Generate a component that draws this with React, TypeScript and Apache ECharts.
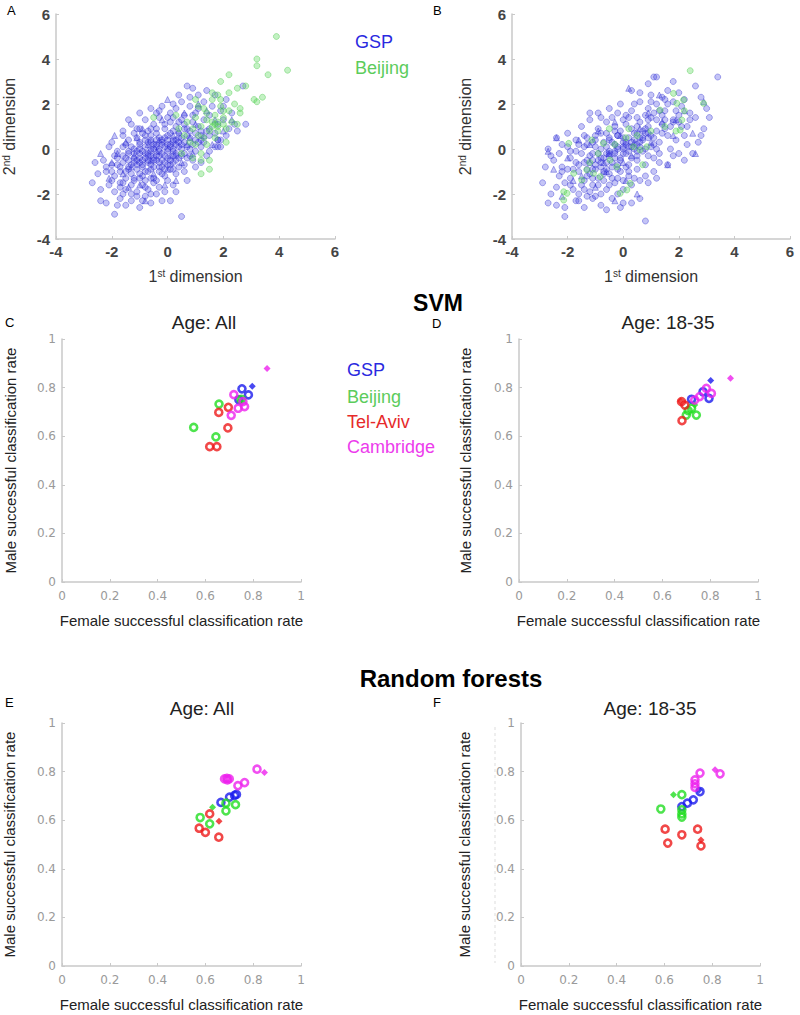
import React, { useEffect, useRef } from 'react';
import * as echarts from 'echarts';

const FONT = 'Liberation Sans, Arial, Helvetica, sans-serif';

// Axis ranges / ticks
const dimTicks = [-4, -2, 0, 2, 4, 6];
const rateTicks = [0, 0.2, 0.4, 0.6, 0.8, 1];

// ---------- Panel A (GSP vs Beijing) ----------
const gspACircles: number[][] = [
  [0.7, 2.8], [0.9, 2.7], [1.4, 2.6], [2.7, 2.8], [0.4, 2.4], [1.1, 2.4],
  [-0.6, 1.8], [-0.2, 1.9], [0.2, 2.0], [0.5, 2.1], [0.8, 1.9], [1.1, 1.8], [1.3, 2.1], [1.6, 1.9], [2.1, 2.2],
  [-0.4, 1.6], [0.1, 1.6], [0.6, 1.5], [1.0, 1.6], [1.5, 1.5], [-1.0, 1.6], [0.3, 1.8], [1.9, 1.7], [2.3, 1.6],
  [-1.6, 0.8], [-1.3, 1.1], [-1.0, 0.9], [-0.8, 1.3], [-0.5, 1.1], [-0.3, 1.4], [-0.1, 0.9], [0.1, 1.2], [0.3, 1.0],
  [0.5, 1.3], [0.7, 0.9], [0.9, 1.2], [1.1, 1.0], [1.3, 1.3], [1.5, 0.9], [1.8, 1.1], [2.0, 1.3], [2.4, 1.1], [2.8, 1.1],
  [-0.7, 0.8], [0.0, 1.4], [0.6, 1.1], [1.2, 0.8], [-0.4, 0.9], [0.2, 0.8], [0.8, 0.8],
  [-1.6, 0.6], [-1.4, 0.4], [-1.2, 0.7], [-1.0, 0.3], [-0.8, 0.6], [-0.6, 0.4], [-0.4, 0.7], [-0.2, 0.3],
  [0.0, 0.6], [0.2, 0.4], [0.4, 0.7], [0.6, 0.3], [0.8, 0.5], [1.0, 0.7], [1.2, 0.4], [1.5, 0.6], [1.8, 0.4], [2.1, 0.6],
  [-1.1, 0.5], [-0.5, 0.2], [-0.1, 0.5], [0.3, 0.2], [0.7, 0.6], [-0.3, 0.5], [0.1, 0.7], [0.5, 0.5], [-0.7, 0.3], [1.3, 0.3], [-0.9, 0.7],
  [-2.1, 0.1], [-1.8, -0.1], [-1.6, 0.1], [-1.4, -0.2], [-1.2, 0.0], [-1.0, -0.2], [-0.8, 0.1], [-0.6, -0.1],
  [-0.4, 0.1], [-0.2, -0.2], [0.0, 0.0], [0.2, -0.1], [0.4, 0.1], [0.6, -0.2], [0.8, 0.0], [1.0, -0.1], [1.2, 0.1],
  [1.5, -0.1], [1.8, 0.1], [-0.9, -0.1], [-0.5, 0.0], [-0.1, 0.1], [0.3, -0.2], [0.7, 0.1], [-1.3, 0.1], [-0.7, -0.2],
  [0.1, 0.2], [-0.3, -0.1], [0.5, 0.0], [1.9, 0.1], [1.8, 0.4],
  [-2.3, -0.5], [-2.0, -0.7], [-1.8, -0.4], [-1.6, -0.6], [-1.4, -0.8], [-1.2, -0.4], [-1.0, -0.6], [-0.8, -0.4],
  [-0.6, -0.7], [-0.4, -0.5], [-0.2, -0.8], [0.0, -0.4], [0.2, -0.6], [0.4, -0.4], [0.6, -0.7], [0.9, -0.5], [1.2, -0.6],
  [-1.1, -0.5], [-0.7, -0.6], [-0.3, -0.3], [0.1, -0.7], [-1.5, -0.4], [-0.9, -0.8], [-0.5, -0.4], [0.3, -0.5], [-1.7, -0.8], [-0.1, -0.6],
  [-2.2, -1.0], [-1.9, -1.2], [-1.7, -1.0], [-1.5, -1.3], [-1.3, -1.1], [-1.1, -0.9], [-0.9, -1.2], [-0.7, -1.0],
  [-0.5, -1.3], [-0.3, -1.0], [-0.1, -1.2], [0.1, -0.9], [0.3, -1.1], [0.6, -1.0], [-1.0, -1.3], [-0.6, -0.9],
  [-1.4, -0.9], [-0.8, -1.4], [0.0, -1.4], [-2.0, -1.4],
  [-2.4, -1.8], [-2.1, -1.6], [-1.9, -1.9], [-1.7, -1.5], [-1.5, -1.8], [-1.3, -1.6], [-1.1, -1.9], [-0.9, -1.6],
  [-0.7, -1.8], [-0.5, -1.5], [-0.3, -1.7], [-0.1, -1.9], [0.2, -1.6], [-1.6, -2.0], [-1.2, -1.4], [-0.6, -2.0], [-2.7, -1.5],
  [-2.4, -2.3], [-2.2, -2.4], [-1.9, -2.9], [-1.7, -2.2], [-1.5, -2.5], [-1.3, -2.3], [-1.0, -2.6], [-0.8, -2.1],
  [-0.6, -2.4], [-0.2, -2.3], [0.1, -2.3], [0.5, -3.0], [-1.8, -2.5], [-1.1, -2.1],
  [-1.0, -0.4], [-0.8, -0.2], [-0.6, 0.0], [-0.4, -0.3], [-0.2, 0.2], [0.0, -0.1], [0.2, 0.3], [-0.9, -0.7],
  [-0.7, -0.5], [-0.5, -0.8], [-0.3, -0.6], [-0.1, -0.3], [0.1, 0.1], [0.3, 0.4], [-1.2, -0.6], [-1.1, -0.1],
  [-0.6, 0.3], [-0.2, -0.5], [0.4, 0.3], [0.0, 0.4], [-0.8, -1.0], [-1.4, -0.5], [-0.4, 0.2], [0.2, -0.3],
  [-1.0, 0.2], [-0.6, -0.3], [0.5, 0.2], [-0.3, 0.0], [1.9, 0.4], [1.7, 0.1], [2.2, 0.9], [2.5, 0.8],
  [-1.5, -1.0], [-1.3, -0.7], [-1.1, -0.7], [-0.9, -0.5], [-0.7, -0.3], [-0.5, -0.5], [-0.3, -0.8], [-0.1, -0.9],
  [0.1, -0.5], [0.3, -0.3], [0.5, -0.3], [0.7, -0.4], [0.9, 0.2], [1.1, 0.3], [0.6, 0.9], [0.4, 0.5], [0.2, 0.0],
  [0.0, 0.2], [-0.2, 0.4], [-0.4, 0.4], [-0.6, 0.6], [-0.8, 0.4], [-1.0, 0.0], [-1.2, -0.2], [-1.4, -0.1],
  [-1.6, -0.3], [-1.8, -0.7], [-2.0, -1.0], [-1.6, -1.5], [-1.2, -1.3], [-0.8, -1.7], [-0.4, -1.4], [-0.2, -1.1],
  [0.0, -0.7], [0.2, -0.9], [0.4, -0.8], [0.8, -0.3], [1.0, 0.4], [1.2, 0.6], [1.4, 0.8], [0.9, 1.5], [0.4, 1.2],
  [-0.1, 1.1], [-0.6, 0.9], [-1.1, 0.9], [-1.5, 0.2], [-1.9, -0.3], [-2.2, -0.8], [-2.5, -1.1], [-1.7, -1.7],
  [-1.0, -1.1], [-0.6, -1.3], [-1.3, -2.0], [-0.9, -2.3], [-0.4, -2.0], [0.3, -1.9], [0.7, -1.4], [1.0, -0.8],
  [1.4, -0.3], [1.7, 0.7], [2.0, 1.9], [0.2, 1.4], [-0.3, 1.7], [0.8, 2.3], [1.7, 2.4], [-1.4, 1.3], [-2.0, 0.3], [-2.6, -0.6]
];
const gspATriangles: number[][] = [
  [-2.4, -0.2], [-1.9, 0.6], [0.0, 2.2], [-2.0, -0.6], [-1.5, 0.3], [-1.2, -0.3], [-0.9, 0.9], [-0.6, -0.5],
  [-0.3, 0.4], [0.1, -0.3], [0.4, 0.8], [0.7, 0.2], [1.0, 1.1], [1.3, 0.6], [1.7, 1.3], [2.0, 0.8],
  [-1.6, -1.1], [-1.0, -1.6], [-0.5, -1.1], [0.0, -0.9], [0.3, -1.4], [-2.1, -1.3], [-0.8, -2.3], [-1.4, -1.7],
  [0.6, 1.6], [1.1, 2.0], [-0.2, 1.3], [0.9, -0.2], [1.6, 0.2], [-1.1, 0.5], [-0.4, -0.1], [0.2, 0.6],
  [-0.7, 0.2], [0.5, -0.6], [1.4, 1.7], [2.3, 1.3], [-1.8, -0.2], [-0.1, -1.6], [0.8, 0.5], [-1.3, -0.8]
];
const beijingA: number[][] = [
  [1.0, 1.4], [1.2, 1.0], [1.4, 1.6], [1.6, 1.2], [1.8, 1.0], [1.7, 1.5], [1.9, 1.9], [2.0, 1.4], [1.5, 0.8],
  [1.3, 0.5], [0.9, 0.9], [1.1, 1.9], [1.6, 2.2], [2.2, 1.7], [2.4, 2.0], [2.1, 0.9], [0.8, 0.3], [0.6, 0.6],
  [1.0, 0.2], [1.4, 0.2], [1.2, -0.2], [0.9, -0.4], [1.7, 0.5], [2.3, 1.2], [1.8, 2.4], [2.6, 1.6], [0.5, -0.2],
  [0.4, 0.9], [0.3, 1.5], [-0.5, 1.4], [1.5, -0.5], [1.2, -0.5], [1.2, -1.1], [1.5, -0.9], [2.1, 0.3], [1.9, 2.2],
  [1.6, 2.5], [1.0, 2.2], [2.2, 3.3], [1.9, 3.0], [2.5, 2.7], [2.8, 2.8], [3.1, 2.2], [3.2, 2.1], [3.4, 2.3],
  [3.2, 4.0], [3.2, 3.7], [3.6, 3.3], [3.9, 5.0], [4.3, 3.5], [2.6, 1.8], [2.5, 1.1], [1.8, 0.8], [1.4, 1.3],
  [1.1, 0.6], [0.7, 1.2], [2.0, 1.7], [1.3, 1.8], [1.7, 1.1], [2.2, 2.5], [1.8, 1.2], [1.6, 1.0], [2.0, 1.1]
];

// ---------- Panel B ----------
const gspBCircles: number[][] = [
  [1.1, 3.2], [1.2, 3.2], [3.4, 3.2], [1.8, 3.0], [0.9, 2.9], [2.6, 2.8], [0.3, 2.6], [1.6, 2.6], [2.0, 2.5],
  [2.8, 2.3], [1.0, 2.4], [1.4, 2.3], [0.6, 2.5],
  [-0.5, 1.8], [-0.1, 2.0], [0.3, 1.7], [0.6, 2.1], [0.9, 1.8], [1.2, 2.0], [1.5, 1.7], [1.8, 2.1], [2.1, 1.9],
  [2.4, 1.6], [-0.9, 1.6], [0.1, 1.5], [0.8, 1.5], [1.4, 1.5], [2.0, 1.5], [-0.2, 1.6], [1.1, 1.6],
  [-1.5, 1.0], [-1.2, 1.3], [-0.9, 0.9], [-0.6, 1.2], [-0.3, 1.0], [0.0, 1.3], [0.3, 0.9], [0.6, 1.2], [0.9, 1.0],
  [1.2, 1.3], [1.5, 0.9], [1.8, 1.2], [2.1, 1.0], [2.4, 1.3], [3.1, 1.4], [-0.8, 1.4], [0.2, 1.4], [0.7, 0.8],
  [1.4, 1.1], [-0.1, 0.8], [0.5, 1.0], [1.0, 1.4],
  [-2.4, 0.5], [-2.0, 0.7], [-1.7, 0.4], [-1.4, 0.6], [-1.1, 0.3], [-0.8, 0.7], [-0.5, 0.4], [-0.2, 0.6],
  [0.1, 0.3], [0.4, 0.7], [0.7, 0.4], [1.0, 0.6], [1.3, 0.3], [1.6, 0.6], [1.9, 0.4], [2.2, 0.6], [2.7, 0.3],
  [-1.3, 0.2], [-0.7, 0.3], [0.0, 0.5], [0.5, 0.2], [1.1, 0.2], [-0.3, 0.2], [0.8, 0.7], [-1.0, 0.6],
  [-2.7, 0.0], [-2.3, -0.2], [-2.0, 0.1], [-1.7, -0.1], [-1.4, 0.1], [-1.1, -0.2], [-0.8, 0.0], [-0.5, -0.1],
  [-0.2, 0.1], [0.1, -0.2], [0.4, 0.0], [0.7, -0.1], [1.0, 0.1], [1.3, -0.2], [1.7, 0.0], [2.0, -0.2], [2.5, -0.2],
  [-1.0, 0.1], [-0.3, -0.2], [0.2, 0.1], [0.6, 0.1], [-0.6, 0.1], [0.0, 0.0], [1.2, 0.0], [-1.5, -0.2],
  [-2.5, -0.5], [-2.2, -0.8], [-1.9, -0.4], [-1.6, -0.7], [-1.3, -0.5], [-1.0, -0.7], [-0.7, -0.4], [-0.4, -0.6],
  [-0.1, -0.4], [0.2, -0.7], [0.5, -0.5], [0.8, -0.7], [1.1, -0.4], [1.6, -0.7], [2.2, -0.5], [-0.8, -0.8],
  [-0.2, -0.7], [0.3, -0.4], [-1.2, -0.3], [0.9, -0.3], [-0.5, -0.3],
  [-2.2, -1.0], [-1.9, -1.3], [-1.6, -1.0], [-1.3, -1.2], [-1.0, -0.9], [-0.7, -1.1], [-0.4, -1.3], [-0.1, -1.0],
  [0.2, -1.2], [0.5, -0.9], [0.8, -1.2], [1.1, -1.0], [-1.1, -1.3], [-0.6, -0.9], [0.0, -1.4], [-1.8, -0.9],
  [0.4, -1.3], [-1.4, -1.4],
  [-2.9, -1.5], [-2.4, -1.7], [-2.1, -1.5], [-1.8, -1.8], [-1.5, -1.6], [-1.2, -1.9], [-0.9, -1.6], [-0.6, -1.8],
  [-0.3, -1.5], [0.0, -1.8], [0.3, -1.6], [0.9, -1.5], [-1.6, -2.0], [-0.8, -2.0], [-2.6, -2.0],
  [-2.7, -2.4], [-2.4, -2.5], [-2.1, -2.6], [-2.1, -3.0], [-1.7, -2.3], [-1.4, -2.6], [-1.1, -2.2], [-0.8, -2.5],
  [-0.4, -2.2], [0.0, -2.4], [0.3, -2.4], [0.8, -3.2], [-1.3, -2.1], [-0.6, -2.7],
  [-0.8, -0.4], [-0.5, -0.2], [-0.2, 0.0], [0.1, 0.2], [0.4, 0.4], [0.7, 0.5], [-0.6, -0.6], [-0.3, -0.4],
  [0.0, -0.2], [0.3, 0.1], [0.6, 0.3], [-0.9, -0.2], [-0.4, 0.3], [0.2, 0.5], [0.5, 0.7], [-0.1, -0.5],
  [-1.1, -0.9], [-0.7, -1.0], [0.8, 0.9], [0.2, -0.1], [-0.4, -0.8], [0.0, 0.3], [-0.9, -0.5], [0.9, 0.5],
  [-0.2, 0.6], [0.5, -0.1], [-0.5, 0.5], [-1.2, -1.1], [1.8, 1.3], [1.5, 2.2], [2.8, 0.6],
  [-1.4, -0.6], [-1.1, -0.5], [-0.8, -0.6], [-0.6, -0.2], [-0.3, -0.1], [0.0, 0.1], [0.3, 0.3], [0.6, 0.5],
  [0.9, 0.7], [1.2, 0.8], [1.5, 1.3], [-0.2, -0.9], [-0.5, -1.1], [-0.9, -1.3], [-1.3, -0.9], [-1.7, -0.6],
  [-2.0, -0.9], [-2.3, -1.2], [-1.9, -1.6], [-1.4, -1.8], [-1.0, -2.1], [-0.5, -1.6], [-0.2, -2.0], [0.2, -1.0],
  [0.5, -0.3], [0.8, 0.0], [1.1, 0.5], [1.4, 0.7], [1.7, 1.0], [2.0, 1.2], [2.3, 1.0], [1.9, 1.7], [1.6, 2.0],
  [1.3, 1.7], [0.9, 1.3], [0.5, 1.4], [0.1, 1.1], [-0.3, 0.8], [-0.6, 0.7], [-1.0, 0.4], [-1.3, 0.5], [-1.6, 0.2],
  [-1.9, -0.1], [-2.2, 0.2], [-2.6, -0.3], [-2.8, -0.8], [-1.2, 1.6], [-0.4, 1.4], [0.4, 2.0], [1.0, 2.1],
  [2.2, 2.2], [2.6, 1.4], [2.9, 0.9], [3.0, 1.8], [2.3, 0.2], [1.8, -0.3], [1.3, -0.6], [0.6, -1.4], [0.1, -0.8],
  [-0.2, -1.3], [-0.7, -1.4], [-1.1, -1.6], [-1.6, -2.3], [-0.1, -2.6], [0.6, -2.2], [1.2, -1.3]
];
const gspBTriangles: number[][] = [
  [-2.7, -0.1], [-2.4, 0.5], [-2.0, -0.4], [-1.6, 0.4], [-1.2, -0.6], [-0.9, 0.8], [-0.5, -0.2], [-0.1, 0.6],
  [0.3, -0.3], [0.6, 0.9], [1.0, 0.3], [1.4, 1.2], [1.8, 0.6], [2.2, 1.7], [2.6, -0.2], [0.2, 2.7],
  [1.6, -0.7], [2.5, 0.7], [-1.5, -1.2], [-1.0, -1.7], [-0.6, -1.0], [0.1, -1.4], [0.5, -2.0], [-2.2, -2.1],
  [-1.8, -1.4], [-0.3, 1.2], [0.9, 1.6], [1.3, 2.4], [-1.2, 0.2], [0.4, 0.3], [-0.7, -0.6], [1.9, 1.3],
  [-2.5, -0.9], [0.0, -0.6], [-0.3, -2.3], [2.9, 2.1]
];
const beijingB: number[][] = [
  [-1.96, 0.25], [-2.14, -1.9], [-2.02, -1.97], [-2.14, -2.27], [-1.13, 0.4], [-1.07, -1.08], [-0.83, -1.23],
  [-0.23, -0.79], [0.25, -1.53], [0.13, -1.82], [-0.11, -1.97], [0.61, -0.04], [0.85, 0.1], [0.37, 0.1],
  [1.81, 2.47], [1.93, 2.03], [2.17, 2.18], [2.41, 3.48], [2.11, 1.29], [1.33, 1.73], [-0.71, 0.25],
  [-0.47, -0.49], [-1.31, -0.93], [-1.78, -1.08], [-1.49, -1.38], [2.89, 2.03], [0.5, 0.6], [-0.3, 0.2],
  [1.0, 0.8], [0.2, 0.9], [-1.2, -0.6], [0.7, -0.7], [1.5, 1.0], [-0.9, -0.2], [2.2, 1.7], [0.1, 0.5],
  [-0.5, 0.9], [1.9, 0.8], [2.05, 0.84]
];

// ---------- Panel C: SVM, Age All ----------
const svmAllGSP = [[0.753, 0.795], [0.780, 0.770], [0.740, 0.750]];
const svmAllGSPFilled = [[0.796, 0.806]];
const svmAllBeijing = [[0.657, 0.732], [0.551, 0.636], [0.644, 0.597], [0.750, 0.752]];
const svmAllBeijingFilled = [[0.745, 0.745]];
const svmAllTelAviv = [[0.696, 0.719], [0.656, 0.698], [0.694, 0.634], [0.618, 0.557], [0.648, 0.557]];
const svmAllTelAvivFilled: number[][] = [];
const svmAllCambridge = [[0.719, 0.771], [0.757, 0.742], [0.764, 0.722], [0.737, 0.715], [0.708, 0.686]];
const svmAllCambridgeFilled = [[0.858, 0.879]];

// ---------- Panel D: SVM, Age 18-35 ----------
const svm1835GSP = [[0.770, 0.783], [0.795, 0.756], [0.722, 0.752]];
const svm1835GSPFilled = [[0.802, 0.829]];
const svm1835Beijing = [[0.700, 0.687], [0.742, 0.687], [0.722, 0.715], [0.708, 0.705]];
const svm1835BeijingFilled = [[0.735, 0.728]];
const svm1835TelAviv = [[0.680, 0.742], [0.694, 0.728], [0.682, 0.664]];
const svm1835TelAvivFilled = [[0.676, 0.745]];
const svm1835Cambridge = [[0.784, 0.797], [0.805, 0.776], [0.756, 0.763], [0.735, 0.749]];
const svm1835CambridgeFilled = [[0.885, 0.838]];

// ---------- Panel E: Random forests, Age All ----------
const rfAllGSP = [[0.665, 0.673], [0.701, 0.695], [0.722, 0.702], [0.730, 0.706]];
const rfAllGSPFilled: number[][] = [];
const rfAllBeijing = [[0.686, 0.670], [0.686, 0.638], [0.726, 0.664], [0.578, 0.611], [0.618, 0.585]];
const rfAllBeijingFilled = [[0.630, 0.653]];
const rfAllTelAviv = [[0.618, 0.626], [0.574, 0.567], [0.600, 0.550], [0.656, 0.530]];
const rfAllTelAvivFilled = [[0.657, 0.596]];
const rfAllCambridge = [[0.816, 0.810], [0.736, 0.742], [0.764, 0.755], [0.680, 0.770], [0.690, 0.772], [0.700, 0.770], [0.692, 0.766]];
const rfAllCambridgeFilled = [[0.847, 0.796]];

// ---------- Panel F: Random forests, Age 18-35 ----------
const rf1835GSP = [[0.749, 0.718], [0.721, 0.684], [0.696, 0.670], [0.673, 0.656]];
const rf1835GSPFilled = [[0.745, 0.724]];
const rf1835Beijing = [[0.673, 0.705], [0.585, 0.646], [0.673, 0.643], [0.673, 0.626], [0.673, 0.613]];
const rf1835BeijingFilled = [[0.638, 0.705]];
const rf1835TelAviv = [[0.603, 0.563], [0.614, 0.506], [0.673, 0.540], [0.739, 0.563], [0.753, 0.494]];
const rf1835TelAvivFilled = [[0.753, 0.519]];
const rf1835Cambridge = [[0.833, 0.791], [0.749, 0.794], [0.728, 0.766], [0.728, 0.750], [0.728, 0.735]];
const rf1835CambridgeFilled = [[0.812, 0.808]];

const siteNames = ['GSP', 'Beijing', 'Tel-Aviv', 'Cambridge'];
const siteColors = ['#1a1aee', '#22dd22', '#ee1a1a', '#ee22ee'];
const legendColors = ['#2a2ae0', '#5ccc5c', '#e62a2a', '#ec3cec'];

const panelTitles = ['Age: All', 'Age: 18-35', 'Age: All', 'Age: 18-35'];

export default function App() {
  const ref = useRef<HTMLDivElement>(null);
  useEffect(() => {
    if (!ref.current) return;
    const chart = echarts.init(ref.current, undefined, { renderer: 'svg' });

    const grids = [
      { left: 56, top: 14, width: 279, height: 225 },
      { left: 512, top: 14, width: 278, height: 225 },
      { left: 62, top: 339, width: 239, height: 243 },
      { left: 519, top: 339, width: 239, height: 243 },
      { left: 62, top: 723, width: 239, height: 243 },
      { left: 521, top: 723, width: 239, height: 243 }
    ];

    const supRich = {
      sup: { fontSize: 10, fontFamily: FONT, color: '#333', verticalAlign: 'top' as const, padding: [0, 0, 7, 0] }
    };

    const axisLine = { show: true, onZero: false, lineStyle: { color: '#c9c9c9', width: 1.5 } };
    const axisTick = { show: true, inside: true, length: 3, lineStyle: { color: '#c9c9c9' } };

    const xAxes: any[] = [];
    const yAxes: any[] = [];
    [0, 1].forEach((i) => {
      xAxes.push({
        type: 'value', gridIndex: i, min: dimTicks[0], max: dimTicks[dimTicks.length - 1], interval: dimTicks[1] - dimTicks[0],
        axisLine, axisTick, splitLine: { show: false },
        axisLabel: { color: '#444', fontSize: 15, fontWeight: 'bold', margin: 5, fontFamily: FONT },
        name: '1{sup|st} dimension', nameLocation: 'middle', nameGap: 29,
        nameTextStyle: { fontSize: 16, color: '#333', fontFamily: FONT, rich: supRich }
      });
      yAxes.push({
        type: 'value', gridIndex: i, min: dimTicks[0], max: dimTicks[dimTicks.length - 1], interval: dimTicks[1] - dimTicks[0],
        axisLine, axisTick, splitLine: { show: false },
        axisLabel: { color: '#444', fontSize: 15, fontWeight: 'bold', margin: 6, fontFamily: FONT },
        name: '2{sup|nd} dimension', nameLocation: 'middle', nameGap: 38,
        nameTextStyle: { fontSize: 16, color: '#333', fontFamily: FONT, rich: supRich }
      });
    });
    const yGaps = [44, 46, 45, 49];
    [2, 3, 4, 5].forEach((i, k) => {
      xAxes.push({
        type: 'value', gridIndex: i, min: rateTicks[0], max: rateTicks[rateTicks.length - 1], interval: 0.2,
        axisLine, axisTick, splitLine: { show: false },
        axisLabel: { color: '#9a9a9a', fontSize: 12, margin: 8, fontFamily: 'DejaVu Sans, sans-serif' },
        name: 'Female successful classification rate', nameLocation: 'middle', nameGap: 31,
        nameTextStyle: { fontSize: 15, color: '#222', fontFamily: FONT }
      });
      yAxes.push({
        type: 'value', gridIndex: i, min: rateTicks[0], max: rateTicks[rateTicks.length - 1], interval: 0.2,
        axisLine, axisTick, splitLine: { show: false },
        axisLabel: { color: '#9a9a9a', fontSize: 12, margin: 6, fontFamily: 'DejaVu Sans, sans-serif' },
        name: 'Male successful classification rate', nameLocation: 'middle', nameGap: yGaps[k],
        nameTextStyle: { fontSize: 15, color: '#222', fontFamily: FONT }
      });
    });

    const series: any[] = [];
    const cloud = (idx: number, data: number[][], symbol: string, size: number, fill: string, stroke: string) => ({
      type: 'scatter', xAxisIndex: idx, yAxisIndex: idx, data, symbol, symbolSize: size, silent: true,
      itemStyle: { color: fill, borderColor: stroke, borderWidth: 0.8 }
    });
    const blueFill = 'rgba(50,50,225,0.36)';
    const blueStroke = 'rgba(40,40,205,0.6)';
    const greenFill = 'rgba(90,215,90,0.45)';
    const greenStroke = 'rgba(70,200,70,0.65)';
    series.push(cloud(0, gspACircles, 'circle', 6, blueFill, blueStroke));
    series.push(cloud(0, gspATriangles, 'triangle', 6, blueFill, blueStroke));
    series.push(cloud(0, beijingA, 'circle', 6, greenFill, greenStroke));
    series.push(cloud(1, gspBCircles, 'circle', 6, blueFill, blueStroke));
    series.push(cloud(1, gspBTriangles, 'triangle', 6, blueFill, blueStroke));
    series.push(cloud(1, beijingB, 'circle', 6, greenFill, greenStroke));

    const panels = [
      [[svmAllGSP, svmAllGSPFilled], [svmAllBeijing, svmAllBeijingFilled], [svmAllTelAviv, svmAllTelAvivFilled], [svmAllCambridge, svmAllCambridgeFilled]],
      [[svm1835GSP, svm1835GSPFilled], [svm1835Beijing, svm1835BeijingFilled], [svm1835TelAviv, svm1835TelAvivFilled], [svm1835Cambridge, svm1835CambridgeFilled]],
      [[rfAllGSP, rfAllGSPFilled], [rfAllBeijing, rfAllBeijingFilled], [rfAllTelAviv, rfAllTelAvivFilled], [rfAllCambridge, rfAllCambridgeFilled]],
      [[rf1835GSP, rf1835GSPFilled], [rf1835Beijing, rf1835BeijingFilled], [rf1835TelAviv, rf1835TelAvivFilled], [rf1835Cambridge, rf1835CambridgeFilled]]
    ];
    panels.forEach((sites, p) => {
      const idx = p + 2;
      sites.forEach(([rings, filled], s) => {
        series.push({
          type: 'scatter', name: siteNames[s], xAxisIndex: idx, yAxisIndex: idx, data: rings, silent: true,
          symbol: 'circle', symbolSize: 7,
          itemStyle: { color: 'rgba(255,255,255,0)', borderColor: siteColors[s], borderWidth: 2.6 }
        });
        series.push({
          type: 'scatter', name: siteNames[s], xAxisIndex: idx, yAxisIndex: idx, data: filled, silent: true,
          symbol: 'diamond', symbolSize: 7,
          itemStyle: { color: siteColors[s] }
        });
      });
    });

    const txt = (text: string, x: number, y: number, opts: any = {}) => ({
      type: 'text', x, y, silent: true,
      style: {
        text, fontFamily: FONT, fontSize: opts.fontSize ?? 13, fill: opts.fill ?? '#000',
        fontWeight: opts.fontWeight ?? 'normal', align: opts.align ?? 'left', verticalAlign: opts.verticalAlign ?? 'middle'
      }
    });

    const graphic: any[] = [
      txt('A', 7, 10), txt('B', 433, 10),
      txt('C', 5, 322), txt('D', 432, 323),
      txt('E', 5, 702), txt('F', 433, 702),
      txt('SVM', 438, 303, { fontSize: 23, fontWeight: 'bold', align: 'center' }),
      txt('Random forests', 451, 678, { fontSize: 24, fontWeight: 'bold', align: 'center' }),
      txt(panelTitles[0], 204, 322, { fontSize: 19, fill: '#222', align: 'center' }),
      txt(panelTitles[1], 668, 322, { fontSize: 19, fill: '#222', align: 'center' }),
      txt(panelTitles[2], 202, 708, { fontSize: 19, fill: '#222', align: 'center' }),
      txt(panelTitles[3], 650, 708, { fontSize: 19, fill: '#222', align: 'center' }),
      txt(siteNames[0], 355, 42, { fontSize: 18, fill: legendColors[0] }),
      txt(siteNames[1], 355, 68, { fontSize: 18, fill: legendColors[1] }),
      txt(siteNames[0], 347, 370, { fontSize: 18, fill: legendColors[0] }),
      txt(siteNames[1], 347, 397, { fontSize: 18, fill: legendColors[1] }),
      txt(siteNames[2], 347, 422, { fontSize: 18, fill: legendColors[2] }),
      txt(siteNames[3], 347, 447, { fontSize: 18, fill: legendColors[3] }),
      {
        type: 'line', silent: true,
        shape: { x1: 495, y1: 727, x2: 495, y2: 963 },
        style: { stroke: '#dddddd', lineWidth: 1, lineDash: [3, 3] }
      }
    ];

    chart.setOption({
      animation: false,
      backgroundColor: '#ffffff',
      grid: grids.map((g) => ({ ...g, containLabel: false })),
      xAxis: xAxes,
      yAxis: yAxes,
      series,
      graphic
    });
    return () => chart.dispose();
  }, []);
  return <div ref={ref} style={{ position: 'absolute', left: 0, top: 0, width: 800, height: 1015 }} />;
}
